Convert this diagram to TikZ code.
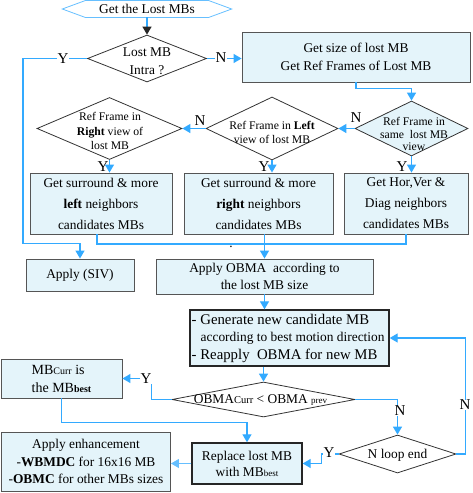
\documentclass[tikz,border=0pt]{standalone}
\usepackage{fontspec}
\setmainfont{Liberation Serif}
\usetikzlibrary{arrows.meta,shapes.geometric,calc}
\definecolor{bfill}{HTML}{E4F4FA}
\definecolor{ablue}{HTML}{33AAFF}
\definecolor{bdraw}{HTML}{555555}
\begin{document}
\begin{tikzpicture}[x=1pt,y=-1pt,
  txt/.style={align=center, inner sep=0pt, font=\fontsize{13.4}{17}\selectfont},
  box/.style={draw=bdraw, fill=bfill, line width=0.9pt, inner sep=0pt, align=center, font=\fontsize{13.4}{18}\selectfont},
  boxk/.style={box, draw=black!85, line width=1.4pt},
  diam/.style={diamond, draw=black!80, line width=0.8pt, inner sep=0pt, aspect=1},
  conn/.style={draw=ablue, line width=1.3pt},
  arr/.style={conn, -{Triangle[length=8pt,width=9pt]}},
  lbl/.style={font=\fontsize{15}{15}\selectfont, inner sep=0.5pt},
  lblw/.style={lbl, fill=white}]
\useasboundingbox (0,0) rectangle (473,493);

% start
\node[txt, minimum width=169pt, minimum height=16.5pt] (hex) at (147,9) {Get the Lost MBs};
\draw[draw=ablue!75, line width=0.8pt] (hex.west) -- ($(hex.north west)+(23,0)$) -- ($(hex.north east)+(-23,0)$) -- (hex.east) -- ($(hex.south east)+(-23,0)$) -- ($(hex.south west)+(23,0)$) -- cycle;

\node[diam, minimum width=119pt, minimum height=47pt] (d1) at (147,58.5) {};
\node[txt, font=\fontsize{13.4}{18}\selectfont] (t1) at (147,61) {Lost MB\\Intra ?};
\draw[conn, -{Triangle[length=8pt,width=9pt,color=black!85]}] (hex.south) -- (d1.north);

\node[box, minimum width=228pt, minimum height=50pt] (b1) at (356,57) {Get size of lost MB\\Get Ref Frames of Lost MB};
\draw[arr] (d1.east) -- (d1.east -| b1.west);
\node[lblw] (n1) at (221,58) {N};

% view diamonds
\node[diam, fill=bfill, minimum width=113pt, minimum height=55pt] (d4) at (411.5,128.5) {};
\node[txt, font=\fontsize{11.7}{12.5}\selectfont] (t4) at (414,134) {Ref Frame in\\same\ \ lost MB\\view};
\node[diam, minimum width=132pt, minimum height=63pt] (d3) at (272,128.5) {};
\node[txt, font=\fontsize{11.7}{14}\selectfont] (t3) at (272,132) {Ref Frame in \textbf{Left}\\view of lost MB};
\node[diam, minimum width=145pt, minimum height=62pt] (d2) at (109.5,128.5) {};
\node[txt, font=\fontsize{11.7}{14.5}\selectfont] (t2) at (110,131) {Ref Frame in\\\textbf{Right} view of\\lost MB};

\draw[arr] (b1.south) -- ++(0,6) -| (d4.north);
\draw[arr] (d4.west) -- (d3.east);
\node[lbl] (n2) at (356,118) {N};
\draw[arr] (d3.west) -- (d2.east);
\node[lbl] (n3) at (200,121) {N};

% candidate boxes
\node[box, minimum width=142pt, minimum height=61pt, font=\fontsize{13.4}{21}\selectfont] (b2) at (101,203.5) {Get surround \& more\\\textbf{left} neighbors\\candidates MBs};
\node[box, minimum width=149pt, minimum height=61pt, font=\fontsize{13.4}{21}\selectfont] (b3) at (258.5,203.5) {Get surround \& more\\\textbf{right} neighbors\\candidates MBs};
\node[box, minimum width=124pt, minimum height=61pt, font=\fontsize{13.4}{21}\selectfont] (b4) at (406,203.5) {Get Hor,Ver \&\\Diag neighbors\\candidates MBs};

\draw[arr] (d2.south) -- (d2.south |- b2.north);
\node[lbl] (y2) at (103,167) {Y};
\draw[arr] (d3.south) -- (d3.south |- b3.north);
\node[lbl] (y3) at (264,167) {Y};
\draw[arr] (d4.south) -- (d4.south |- b4.north);
\node[lbl] (y4) at (402,167) {Y};

% SIV and OBMA
\node[box, minimum width=108pt, minimum height=32pt] (b6) at (80,275) {Apply (SIV)};
\node[box, minimum width=217pt, minimum height=35pt, font=\fontsize{13.4}{17}\selectfont] (b5) at (264.5,276.5) {Apply OBMA\ \ according to\\the lost MB size};

\draw[conn] ($(b2.south)+(-4,0)$) -- ++(0,9.5) -| (b4.south);
\draw[arr] (b5.north |- b3.south) -- (b5.north);
\node[txt] (dot) at (231,247) {.};

\coordinate (c1) at (23,58.5);
\coordinate (c2) at (23,243.5);
\draw[arr] (d1.west) -- (c1) -- (c2) -| (b6.north);
\node[lblw] (y1) at (63,58.5) {Y};

% generate
\node[boxk, minimum width=199pt, minimum height=56pt] (b7) at (289.5,338) {};
\node[txt, anchor=west, align=left, font=\fontsize{14.8}{17.5}\selectfont] (t7) at (191.5,338) {- Generate new candidate MB\\\hspace*{9pt}{\fontsize{13.4}{17.5}\selectfont according to best motion direction}\\- Reapply\ \ OBMA for new MB};
\draw[arr] (b5.south) -- (b5.south |- b7.north);

% compare
\node[diam, minimum width=183pt, minimum height=35pt] (d5) at (263.5,399.5) {};
\node[txt] (t5) at (260.5,400) {{\fontsize{13.4}{13}\selectfont OBMA}{\fontsize{10.5}{10}\selectfont Curr} {\fontsize{13.4}{13}\selectfont < OBMA} {\fontsize{9}{9}\selectfont prev}};
\draw[arr] (d5.north |- b7.south) -- (d5.north);

\node[box, minimum width=121pt, minimum height=39pt, align=left, font=\fontsize{14}{18}\selectfont] (b8) at (61.5,378.5) {MB{\fontsize{10}{10}\selectfont Curr} is\\the MB{\fontsize{10}{10}\selectfont\textbf{best}}};
\draw[arr] (d5.west) -- ++(-20,0) |- (b8.east);
\node[lblw] (y5) at (146,378.5) {Y};

% loop end
\node[diam, minimum width=117pt, minimum height=38pt] (d6) at (397.5,454) {};
\node[txt] (t6) at (397.5,455) {N loop end};
\draw[arr] (d5.east) -| (d6.north);
\node[lblw] (n5) at (400,411) {N};
\draw[arr] (d6.east) -- ++(9,0) |- (b7.east);
\node[lblw] (n6) at (465,405) {N};

\node[boxk, minimum width=110pt, minimum height=41pt, font=\fontsize{13.4}{16}\selectfont] (b9) at (247,463.5) {Replace lost MB\\with MB{\fontsize{9}{9}\selectfont best}};
\draw[arr] (b8.south) -- ++(0,24) -| (b9.north);
\draw[arr] (d6.west) -- ++(-17,0) |- (b9.east);
\node[lblw] (y6) at (329,453) {Y};

\node[box, minimum width=169pt, minimum height=59pt, font=\fontsize{13.4}{17.5}\selectfont] (b10) at (86,461.5) {Apply enhancement\\-\textbf{WBMDC} for 16x16 MB\\-\textbf{OBMC} for other MBs sizes};
\draw[draw=ablue!75, line width=0.9pt, -{Triangle[length=8pt,width=9pt]}] (b9.west) -- (b9.west -| b10.east);
\end{tikzpicture}
\end{document}
